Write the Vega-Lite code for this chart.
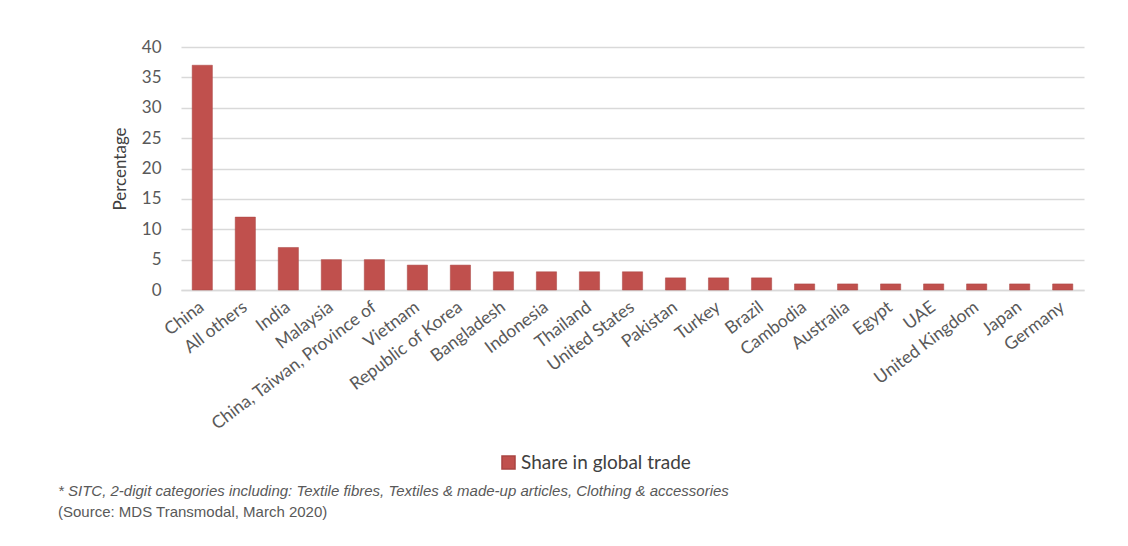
{
  "$schema": "https://vega.github.io/schema/vega-lite/v6.json",
  "width": 903,
  "height": 243,
  "autosize": {"type": "none"},
  "padding": {"left": 181, "top": 47, "right": 44, "bottom": 256},
  "background": "white",
  "data": {
    "values": [
      {"country": "China", "share": 37, "series": "Share in global trade"},
      {"country": "All others", "share": 12, "series": "Share in global trade"},
      {"country": "India", "share": 7, "series": "Share in global trade"},
      {"country": "Malaysia", "share": 5, "series": "Share in global trade"},
      {"country": "China, Taiwan, Province of", "share": 5, "series": "Share in global trade"},
      {"country": "Vietnam", "share": 4.1, "series": "Share in global trade"},
      {"country": "Republic of Korea", "share": 4.1, "series": "Share in global trade"},
      {"country": "Bangladesh", "share": 3, "series": "Share in global trade"},
      {"country": "Indonesia", "share": 3, "series": "Share in global trade"},
      {"country": "Thailand", "share": 3, "series": "Share in global trade"},
      {"country": "United States", "share": 3, "series": "Share in global trade"},
      {"country": "Pakistan", "share": 2, "series": "Share in global trade"},
      {"country": "Turkey", "share": 2, "series": "Share in global trade"},
      {"country": "Brazil", "share": 2, "series": "Share in global trade"},
      {"country": "Cambodia", "share": 1, "series": "Share in global trade"},
      {"country": "Australia", "share": 1, "series": "Share in global trade"},
      {"country": "Egypt", "share": 1, "series": "Share in global trade"},
      {"country": "UAE", "share": 1, "series": "Share in global trade"},
      {"country": "United Kingdom", "share": 1, "series": "Share in global trade"},
      {"country": "Japan", "share": 1, "series": "Share in global trade"},
      {"country": "Germany", "share": 1, "series": "Share in global trade"}
    ]
  },
  "title": {
    "text": "* SITC, 2-digit categories including: Textile fibres, Textiles & made-up articles, Clothing & accessories",
    "subtitle": "(Source: MDS Transmodal, March 2020)",
    "orient": "bottom",
    "anchor": "start",
    "frame": "group",
    "dx": -123,
    "offset": 11,
    "font": "Liberation Sans",
    "fontStyle": "italic",
    "fontWeight": "normal",
    "fontSize": 15,
    "color": "#595959",
    "subtitleFont": "Liberation Sans",
    "subtitleFontSize": 15,
    "subtitleColor": "#595959",
    "subtitlePadding": 6
  },
  "mark": {"type": "bar", "stroke": "#a94442", "strokeWidth": 0.5},
  "encoding": {
    "x": {
      "field": "country",
      "type": "nominal",
      "sort": null,
      "scale": {"paddingInner": 0.53, "paddingOuter": 0.26},
      "axis": {
        "title": null,
        "labelAngle": -37,
        "labelAlign": "right",
        "labelBaseline": "middle",
        "labelFont": "Lato",
        "labelFontSize": 17.5,
        "labelColor": "#595959",
        "labelPadding": 15,
        "ticks": false,
        "domainColor": "#d9d9d9",
        "domainWidth": 1.5,
        "labelOverlap": false,
        "labelLimit": 400
      }
    },
    "y": {
      "field": "share",
      "type": "quantitative",
      "scale": {"domain": [0, 40]},
      "axis": {
        "title": "Percentage",
        "titleFont": "Lato",
        "titleFontSize": 17,
        "titleFontWeight": "normal",
        "titleColor": "#404040",
        "titlePadding": 12,
        "values": [0, 5, 10, 15, 20, 25, 30, 35, 40],
        "labelFont": "Lato",
        "labelFontSize": 17,
        "labelColor": "#595959",
        "labelPadding": 20,
        "ticks": false,
        "domain": false,
        "gridColor": "#d9d9d9",
        "gridWidth": 1.5
      }
    },
    "color": {
      "field": "series",
      "type": "nominal",
      "scale": {"range": ["#c0504d"]},
      "legend": {
        "title": null,
        "orient": "none",
        "legendX": 318,
        "legendY": 406,
        "symbolType": "square",
        "symbolSize": 170,
        "labelFont": "Lato",
        "labelFontSize": 19,
        "labelColor": "#404040",
        "labelOffset": 3,
        "labelLimit": 400
      }
    }
  },
  "config": {
    "view": {"stroke": null}
  }
}
